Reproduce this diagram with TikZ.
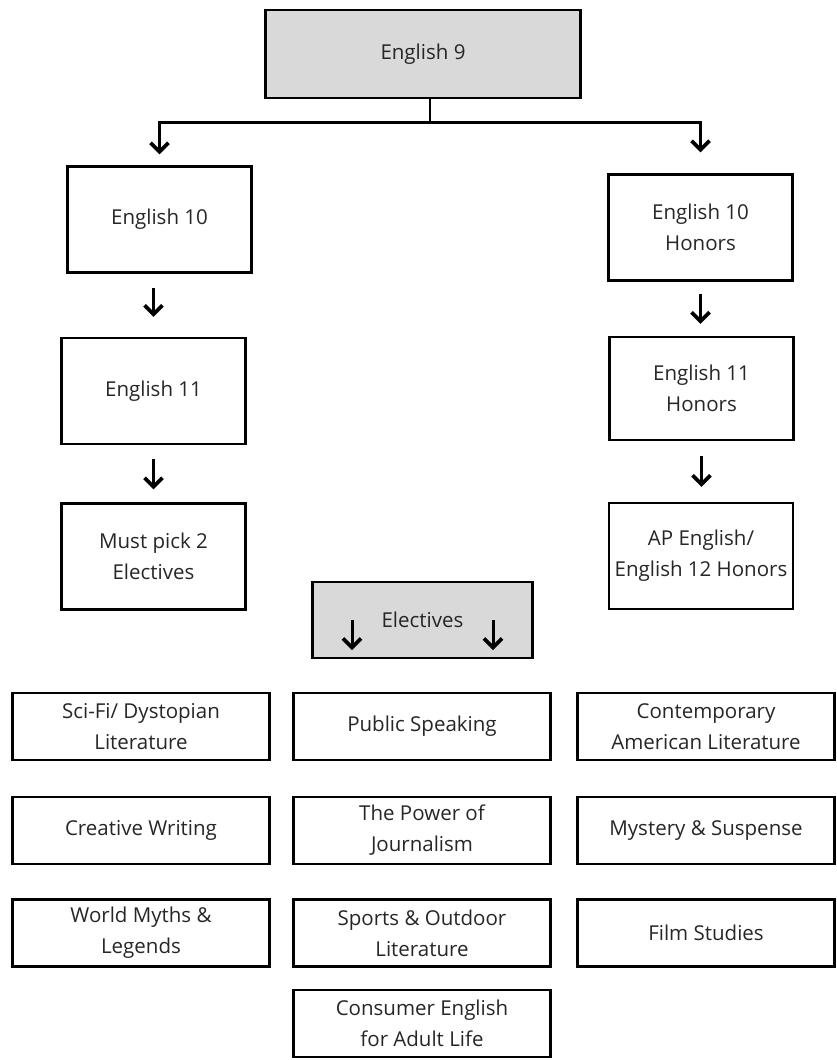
\documentclass[tikz,border=0pt]{standalone}
\usepackage{fontspec}
\setmainfont{Open Sans}
\usetikzlibrary{arrows.meta,positioning}
\begin{document}
\begin{tikzpicture}[x=1pt,y=-1pt,
    box/.style={draw,line width=2.4pt,align=center,inner sep=0pt,text=black!85,font=\fontsize{20.5}{31}\selectfont},
    colbox/.style={box,minimum width=184pt,minimum height=106pt},
    elbox/.style={box,minimum width=257pt,minimum height=67pt},
    grey/.style={fill=black!15},
    link/.style={line width=2.2pt},
    dn/.style={line width=3pt,-{Straight Barb[length=9pt,width=18pt,line width=3.6pt]}}]
  \useasboundingbox (0,0) rectangle (837,1060);
  \node[box,grey,minimum width=315pt,minimum height=88pt] (e9) at (423,54) {English 9};
  \node[colbox] (e10) at (159.5,219.5) {English 10};
  \node[colbox] (e11) at (153.5,391) {English 11};
  \node[colbox] (must) at (153.5,556.5) {Must pick 2\\Electives};
  \node[colbox] (e10h) at (700.5,227.5) {English 10\\Honors};
  \node[colbox,minimum height=103pt] (e11h) at (701.5,388.5) {English 11\\Honors};
  \node[colbox] (ap) at (701,556) {AP English/\\English 12 Honors};
  \node[box,grey,minimum width=220pt,minimum height=76pt] (el) at (422.5,620) {Electives};
  \node[elbox] (sci) at (141,726.5) {Sci-Fi/ Dystopian\\Literature};
  \node[elbox] (pub) at (422,726.5) {Public Speaking};
  \node[elbox] (con) at (706,726.5) {Contemporary\\American Literature};
  \node[elbox] (cw) at (141,830.5) {Creative Writing};
  \node[elbox] (pow) at (422,830.5) {The Power of\\Journalism};
  \node[elbox] (mys) at (706,830.5) {Mystery \& Suspense};
  \node[elbox] (wm) at (141,933) {World Myths \&\\Legends};
  \node[elbox] (spo) at (422,933) {Sports \& Outdoor\\Literature};
  \node[elbox] (film) at (706,933) {Film Studies};
  \node[elbox] (cons) at (422,1023.5) {Consumer English\\for Adult Life};
  \coordinate (split) at (430,122);
  \draw[link] (split |- e9.south) -- (split);
  \draw[link,dn,shorten >=11pt] (split) -| (e10.north);
  \draw[link,dn,shorten >=21pt] (split) -| (e10h.north);
  \draw[dn,shorten <=14pt,shorten >=20pt] (e10.south -| e11.north) -- (e11.north);
  \draw[dn,shorten <=14pt,shorten >=13pt] (e11.south) -- (must.north);
  \draw[dn,shorten <=12pt,shorten >=12pt] (e10h.south) -- (e10h.south |- e11h.north);
  \draw[dn,shorten <=15pt,shorten >=15pt] (e11h.south) -- (e11h.south |- ap.north);
  \coordinate (ela) at (352,620);
  \coordinate (elb) at (352,650);
  \coordinate (elc) at (493,620);
  \coordinate (eld) at (493,650);
  \draw[dn] (ela) -- (elb);
  \draw[dn] (elc) -- (eld);
\end{tikzpicture}
\end{document}
